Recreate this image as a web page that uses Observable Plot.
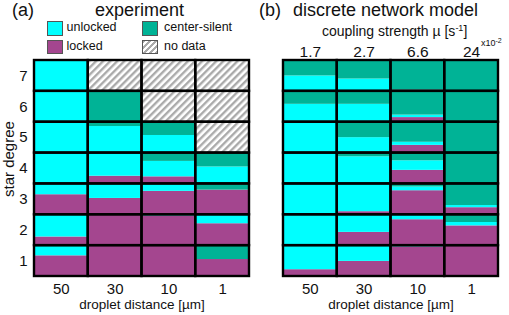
<!DOCTYPE html>
<html>
<head>
<meta charset="utf-8">
<script src="https://cdn.jsdelivr.net/npm/d3@7"></script>
<script src="https://cdn.jsdelivr.net/npm/@observablehq/plot@0.6"></script>
<style>
  body { margin: 0; background: #fff; }
  #fig { position: relative; width: 509px; height: 315px; font-family: "Liberation Sans", Arial, sans-serif; color: #111; overflow: hidden; }
  #fig svg { position: absolute; left: 0; top: 0; }
  #fig .t { position: absolute; white-space: nowrap; line-height: 1; }
  #fig .t sup { line-height: 0; vertical-align: 0; position: relative; }
  #fig .sw { position: absolute; width: 16px; height: 14.5px; box-sizing: border-box; border: 1px solid #555; }
</style>
</head>
<body>
<div id="fig">
  <div class="t" style="left:12px; top:1.3px; font-size:18px">(a)</div>
  <div class="t" style="left:95px; top:1.3px; font-size:18px">experiment</div>
  <div class="t" style="left:259px; top:1.3px; font-size:18px">(b)</div>
  <div class="t" style="left:293px; top:1.3px; font-size:18px">discrete network model</div>
  <div class="t" style="left:322px; top:23.8px; font-size:14px">coupling strength µ [s<sup style="font-size:9px; top:-5px">-1</sup>]</div>
  <div class="t" style="left:481px; top:38.9px; font-size:9px">x10<sup style="font-size:7px; top:-3px">-2</sup></div>

  <div class="sw" style="left:47px; top:21px; background:#00ffff"></div>
  <div class="t" style="left:66.5px; top:21.1px; font-size:12.5px">unlocked</div>
  <div class="sw" style="left:47px; top:39.5px; background:#a4468f"></div>
  <div class="t" style="left:66.5px; top:40.1px; font-size:12.5px">locked</div>
  <div class="sw" style="left:142px; top:21px; background:#00b396"></div>
  <div class="t" style="left:164px; top:21.1px; font-size:12.5px">center-silent</div>
  <div class="sw" style="left:142px; top:39.5px; background:repeating-linear-gradient(135deg, #aaa 0 2px, #fff 2px 4.2px)"></div>
  <div class="t" style="left:164px; top:40.1px; font-size:12.5px">no data</div>

  <div class="t" style="left:0.9px; top:197px; font-size:15px; transform:rotate(-90deg); transform-origin:0 0">star degree</div>
</div>
<script>
// Column categories (droplet distance, µm) and row categories (star degree)
const distances = ["50", "30", "10", "1"];
const degrees = [1, 2, 3, 4, 5, 6, 7];
// Coupling strength µ (×10⁻² s⁻¹) matching each distance column of the model
const couplings = ["1.7", "2.7", "6.6", "24"];
const panels = ["experiment", "model"];
const states = ["locked", "unlocked", "center-silent"];

// Fractions per star degree (rows 1..7) and distance (50, 30, 10, 1); null = no data
const expLocked = [
  [0.67, 1, 1, 0.55],
  [0.28, 1, 0.96, 0.71],
  [0.65, 0.53, 0.76, 0.8],
  [0, 0.25, 0.23, 0],
  [0, 0, 0, null],
  [0, 0, null, null],
  [0, null, null, null]
];
const expUnlocked = [
  [0.33, 0, 0, 0],
  [0.72, 0, 0.04, 0.29],
  [0.35, 0.47, 0.24, 0],
  [1, 0.75, 0.5, 0.55],
  [1, 0.86, 0.57, null],
  [1, 0, null, null],
  [1, null, null, null]
];
const expSilent = [
  [0, 0, 0, 0.45],
  [0, 0, 0, 0],
  [0, 0, 0, 0.2],
  [0, 0, 0.27, 0.45],
  [0, 0.14, 0.43, null],
  [0, 1, null, null],
  [0, null, null, null]
];

const modelLocked = [
  [0.22, 0.49, 0.96, 1],
  [0.03, 0.43, 0.84, 0.64],
  [0, 0.1, 0.78, 0.23],
  [0, 0, 0.44, 0],
  [0, 0.03, 0.25, 0],
  [0, 0, 0.15, 0],
  [0, 0, 0.04, 0]
];
const modelUnlocked = [
  [0.78, 0.51, 0.04, 0],
  [0.97, 0.57, 0.16, 0.11],
  [1, 0.9, 0.12, 0.07],
  [1, 0.88, 0.31, 0],
  [1, 0.47, 0.1, 0],
  [0.58, 0.58, 0.08, 0],
  [0.5, 0.4, 0, 0]
];
const modelSilent = [
  [0, 0, 0, 0],
  [0, 0, 0, 0.25],
  [0, 0, 0.1, 0.7],
  [0, 0.12, 0.25, 1],
  [0, 0.5, 0.65, 1],
  [0.42, 0.42, 0.77, 1],
  [0.5, 0.6, 0.96, 1]
];

const stateColors = ["#a4468f", "#00ffff", "#00b396"];

// Long table: one row per panel × degree × distance × state (stack order = state order)
const sources = {
  experiment: [expLocked, expUnlocked, expSilent],
  model: [modelLocked, modelUnlocked, modelSilent]
};
const fractions = [];
const cells = [];
const noData = [];
for (const panel of panels) {
  degrees.forEach((degree, r) => {
    distances.forEach((distance, c) => {
      cells.push({panel, degree, distance});
      if (sources[panel][0][r][c] === null) {
        noData.push({panel, degree, distance});
        return;
      }
      states.forEach((state, s) => {
        fractions.push({panel, degree, distance, state, value: sources[panel][s][r][c]});
      });
    });
  });
}

const chart = Plot.plot({
  width: 509,
  height: 315,
  marginTop: 60,
  marginBottom: 39,
  marginLeft: 34,
  marginRight: 11,
  style: {fontFamily: "'Liberation Sans', Arial, sans-serif", fontSize: "15px", background: "transparent", color: "#111"},
  fx: {domain: panels, paddingInner: 0.1365, paddingOuter: 0, round: false, axis: null},
  fy: {domain: [...degrees].reverse(), padding: 0, round: false, tickSize: 0, tickPadding: 7, label: null},
  x: {domain: distances, padding: 0, round: false, tickSize: 0, tickPadding: 7, label: null},
  y: {domain: [0, 1], axis: null},
  color: {domain: states, range: stateColors},
  marks: [
    Plot.barY(fractions, Plot.stackY({fx: "panel", fy: "degree", x: "distance", y: "value", fill: "state"})),
    Plot.barY(noData, {fx: "panel", fy: "degree", x: "distance", y1: 0, y2: 1, fill: "url(#hatch)"}),
    Plot.barY(cells, {fx: "panel", fy: "degree", x: "distance", y1: 0, y2: 1, fill: "none", stroke: "#000", strokeWidth: 2.4}),
    Plot.text(couplings, {
      fx: () => "model", fy: () => 7, x: (d, i) => distances[i], text: d => d,
      frameAnchor: "top", lineAnchor: "bottom", dy: -4, fontSize: 15.5
    }),
    Plot.text(panels, {
      fx: d => d, fy: () => 1, text: () => "droplet distance [µm]",
      frameAnchor: "bottom", lineAnchor: "bottom", dy: 32.5, fontSize: 13.5
    })
  ]
});

// Diagonal hatch used for cells without data
const defs = d3.select(chart).insert("defs", ":first-child");
const pat = defs.append("pattern")
  .attr("id", "hatch")
  .attr("patternUnits", "userSpaceOnUse")
  .attr("width", 5)
  .attr("height", 5)
  .attr("patternTransform", "rotate(45)");
pat.append("rect").attr("width", 5).attr("height", 5).attr("fill", "#fff");
pat.append("rect").attr("width", 2.4).attr("height", 5).attr("fill", "#aaa");

const fig = document.getElementById("fig");
fig.insertBefore(chart, fig.firstChild);
</script>
</body>
</html>
